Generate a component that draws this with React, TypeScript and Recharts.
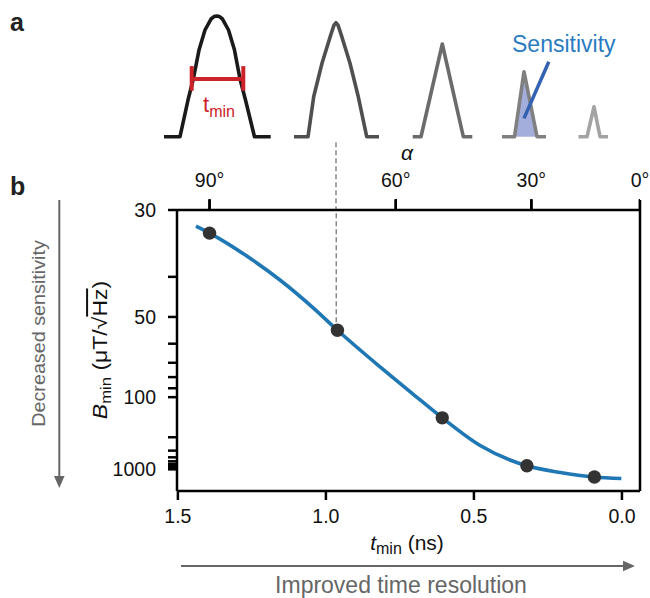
import React from "react";
import {
  ComposedChart,
  Line,
  Area,
  Scatter,
  XAxis,
  YAxis,
  ReferenceLine,
} from "recharts";

const FONT = "'Liberation Sans', Arial, Helvetica, sans-serif";

// ---- panel a: pulse traces (x in arbitrary time units, y normalised amplitude)
const pulse1: [number, number][] = [
  [1.64, 0], [1.8, 0], [1.88, 0.304], [1.933, 0.478], [1.99, 0.718], [2.05, 0.884],
  [2.11, 0.975], [2.14, 0.995], [2.167, 1.0], [2.195, 0.995], [2.225, 0.975],
  [2.285, 0.884], [2.345, 0.718], [2.4, 0.478], [2.455, 0.304], [2.545, 0], [2.707, 0],
];
const pulse2: [number, number][] = [
  [2.94, 0], [3.08, 0], [3.137, 0.331], [3.22, 0.609], [3.31, 0.85], [3.34, 0.925],
  [3.36, 0.944], [3.38, 0.925], [3.41, 0.85], [3.5, 0.609], [3.583, 0.331], [3.667, 0], [3.79, 0],
];
const pulse3: [number, number][] = [
  [4.127, 0], [4.21, 0], [4.423, 0.768], [4.633, 0], [4.723, 0],
];
const pulse4: [number, number][] = [
  [5.02, 0], [5.145, 0], [5.24, 0.5385], [5.37, 0], [5.46, 0],
];
const pulse5: [number, number][] = [
  [5.785, 0], [5.87, 0], [5.94, 0.2486], [6.0, 0], [6.08, 0],
];
const shaded: [number, number][] = [[5.145, 0], [5.24, 0.5385], [5.37, 0]];
const pulseColors = ["#1a1a1a", "#4f4f4f", "#6b6b6b", "#808080", "#a3a3a3"];

// ---- panel b: fitted curve and measured points (s = 1000 / Bmin)
const curveT = [1.439, 1.393, 1.266, 1.154, 1.043, 0.961, 0.817, 0.705, 0.607, 0.479, 0.321, 0.208, 0.093, 0.002];
const curveS = [31.32, 30.45, 27.56, 24.57, 21.13, 18.34, 13.77, 10.36, 7.42, 3.97, 1.45, 0.61, 0.05, -0.14];
const dotT = [1.393, 0.961, 0.607, 0.321, 0.093];
const dotS = [30.45, 18.34, 7.42, 1.45, 0.05];

const xTicks = [1.5, 1.0, 0.5, 0.0];
const alphaT = [1.393, 0.764, 0.306, -0.061];
const alphaLabels = ["90°", "60°", "30°", "0°"];
const yTickB = [30, 40, 50, 60, 70, 80, 90, 100, 200, 300, 400, 500, 600, 700, 800, 900, 1000];
const yLabelB = [30, 50, 100, 1000];

// merge the pulses into one table keyed by x (y0..y4, sh for the shaded area)
const pulses = [pulse1, pulse2, pulse3, pulse4, pulse5];
const rowMap = new Map<number, Record<string, number>>();
pulses.forEach((p, i) =>
  p.forEach(([x, y]) => {
    const r = rowMap.get(x) ?? { x };
    r["y" + i] = y;
    rowMap.set(x, r);
  })
);
shaded.forEach(([x, y]) => {
  const r = rowMap.get(x) ?? { x };
  r.sh = y;
  rowMap.set(x, r);
});
const pulseRows = Array.from(rowMap.values()).sort((a, b) => a.x - b.x);

const curve = curveT.map((t, i) => ({ t, s: curveS[i] }));
const dots = dotT.map((t, i) => ({ t, s: dotS[i] }));
const alphaRows = alphaT.map((t) => ({ t, v: 0.5 }));

const xDomain: [number, number] = [-0.061, 1.503];
const yDomain: [number, number] = [-1.7, 1000 / 30];

const axisStyle = { stroke: "#000", strokeWidth: 2.5 };
const tickStyle = { fontSize: 19.5, fill: "#111", fontFamily: FONT };

function PanelA() {
  return (
    <ComposedChart width={650} height={210} data={pulseRows} margin={{ top: 0, right: 0, bottom: 0, left: 0 }}>
      <XAxis type="number" dataKey="x" domain={[0, 6.5]} hide allowDataOverflow />
      <YAxis type="number" domain={[-0.607, 1.1326]} hide allowDataOverflow />
      <Area
        dataKey="sh"
        type="linear"
        baseValue={0}
        connectNulls
        stroke="none"
        fill="#a4aedc"
        fillOpacity={1}
        isAnimationActive={false}
      />
      {pulses.map((_, i) => (
        <Line
          key={i}
          dataKey={"y" + i}
          type="linear"
          connectNulls
          stroke={pulseColors[i]}
          strokeWidth={3.6}
          strokeLinejoin="round"
          dot={false}
          activeDot={false}
          isAnimationActive={false}
        />
      ))}
      {/* t_min bar */}
      <ReferenceLine segment={[{ x: 1.917, y: 0.478 }, { x: 2.433, y: 0.478 }]} stroke="#cc2229" strokeWidth={4} />
      <ReferenceLine segment={[{ x: 1.917, y: 0.381 }, { x: 1.917, y: 0.585 }]} stroke="#cc2229" strokeWidth={4} />
      <ReferenceLine segment={[{ x: 2.433, y: 0.381 }, { x: 2.433, y: 0.585 }]} stroke="#cc2229" strokeWidth={4} />
      {/* sensitivity pointer */}
      <ReferenceLine segment={[{ x: 5.488, y: 0.621 }, { x: 5.24, y: 0.152 }]} stroke="#3462b2" strokeWidth={3.5} />
      {/* guide down to panel b */}
      <ReferenceLine
        segment={[{ x: 3.36, y: -0.045 }, { x: 3.36, y: -0.607 }]}
        stroke="#888"
        strokeWidth={1.5}
        strokeDasharray="5 3"
      />
    </ComposedChart>
  );
}

// thin strip just above panel b carrying the outward tick marks of the alpha axis
function AlphaTicks() {
  return (
    <ComposedChart
      width={650}
      height={211}
      data={alphaRows}
      margin={{ top: 199, right: 10, bottom: 0, left: 177 }}
    >
      <XAxis type="number" dataKey="t" domain={xDomain} reversed hide allowDataOverflow />
      <YAxis type="number" dataKey="v" domain={[0, 1]} hide />
      <Scatter
        dataKey="v"
        isAnimationActive={false}
        shape={(p: any) => (
          <line x1={p.cx} x2={p.cx} y1={p.cy - 6} y2={p.cy + 6} stroke="#000" strokeWidth={2.5} />
        )}
      />
    </ComposedChart>
  );
}

function PanelB() {
  return (
    <ComposedChart width={650} height={598} margin={{ top: 0, right: 0, bottom: 0, left: 0 }}>
      <XAxis
        type="number"
        dataKey="t"
        domain={xDomain}
        reversed
        allowDataOverflow
        ticks={xTicks}
        interval={0}
        tickFormatter={(v: number) => v.toFixed(1)}
        height={107}
        tickSize={9}
        tickMargin={9}
        axisLine={axisStyle}
        tickLine={axisStyle}
        tick={tickStyle}
      />
      <XAxis
        xAxisId="top"
        orientation="top"
        type="number"
        dataKey="t"
        domain={xDomain}
        reversed
        allowDataOverflow
        ticks={alphaT}
        interval={0}
        tickFormatter={(v: number) => alphaLabels[alphaT.indexOf(v)] ?? ""}
        height={210}
        tickSize={10}
        tickMargin={13}
        axisLine={axisStyle}
        tickLine={axisStyle}
        tick={tickStyle}
      />
      <YAxis
        type="number"
        dataKey="s"
        domain={yDomain}
        allowDataOverflow
        ticks={yTickB.map((b) => 1000 / b)}
        interval={0}
        tickFormatter={(v: number) => {
          const b = Math.round(1000 / v);
          return yLabelB.includes(b) ? String(b) : "";
        }}
        width={177}
        tickSize={9}
        tickMargin={12}
        axisLine={axisStyle}
        tickLine={axisStyle}
        tick={tickStyle}
      />
      <YAxis
        yAxisId="right"
        orientation="right"
        type="number"
        domain={yDomain}
        allowDataOverflow
        width={10}
        tick={false}
        tickLine={false}
        axisLine={axisStyle}
      />
      <ReferenceLine
        segment={[{ x: 0.965, y: dotS[1] }, { x: 0.965, y: yDomain[1] }]}
        stroke="#888"
        strokeWidth={1.5}
        strokeDasharray="5 3"
      />
      {/* invisible series so the alpha axis on top gets drawn */}
      <Line
        xAxisId="top"
        data={curve}
        dataKey="s"
        stroke="none"
        dot={false}
        activeDot={false}
        isAnimationActive={false}
      />
      <Line
        data={curve}
        dataKey="s"
        type="monotone"
        stroke="#1f77b4"
        strokeWidth={3.6}
        dot={false}
        activeDot={false}
        isAnimationActive={false}
      />
      <Scatter
        data={dots}
        dataKey="s"
        isAnimationActive={false}
        shape={(p: any) => <circle cx={p.cx} cy={p.cy} r={6.7} fill="#333" />}
      />
    </ComposedChart>
  );
}

function Overlay() {
  const gray = "#666";
  return (
    <svg
      width={650}
      height={598}
      style={{ position: "absolute", left: 0, top: 0, pointerEvents: "none", fontFamily: FONT }}
    >
      <text x={10} y={31} fontSize={25} fontWeight="bold" fill="#222">a</text>
      <text x={10} y={195} fontSize={25} fontWeight="bold" fill="#222">b</text>

      <text x={203} y={111.5} fill="#cc2229" fontSize={22}>
        t<tspan fontSize={16} dy={5}>min</tspan>
      </text>
      <text x={512} y={51.5} fill="#2a7bbf" fontSize={23}>Sensitivity</text>
      <text x={407} y={160} fontSize={21} fontStyle="italic" textAnchor="middle" fill="#111">α</text>

      <text
        transform="translate(106.5,350) rotate(-90) scale(1.15,1)"
        textAnchor="middle"
        fontSize={20}
        fill="#111"
      >
        <tspan fontStyle="italic">B</tspan>
        <tspan fontSize={14.5} dy={4}>min</tspan>
        <tspan dy={-4}> (μT/√</tspan>
        <tspan style={{ textDecoration: "overline" }}>Hz</tspan>
        <tspan>)</tspan>
      </text>

      <text x={407} y={549.5} textAnchor="middle" fontSize={21} fill="#111">
        <tspan fontStyle="italic">t</tspan>
        <tspan fontSize={16} dy={4}>min</tspan>
        <tspan dy={-4}> (ns)</tspan>
      </text>

      <text
        transform="translate(44.5,333.5) rotate(-90) scale(1.04,1)"
        textAnchor="middle"
        fontSize={19}
        fill={gray}
      >
        Decreased sensitivity
      </text>
      <line x1={59.3} y1={200} x2={59.3} y2={478} stroke={gray} strokeWidth={2} />
      <polygon points="54,476 64.6,476 59.3,488" fill={gray} />

      <text x={401} y={592.5} textAnchor="middle" fontSize={23} fill={gray}>
        Improved time resolution
      </text>
      <line x1={181} y1={566} x2={625} y2={566} stroke={gray} strokeWidth={2} />
      <polygon points="623,560.7 623,571.3 635,566" fill={gray} />
    </svg>
  );
}

export default function App() {
  return (
    <div
      style={{
        position: "absolute",
        left: 0,
        top: 0,
        width: 650,
        height: 598,
        background: "#fff",
        fontFamily: FONT,
      }}
    >
      <div style={{ position: "absolute", left: 0, top: 0 }}>
        <PanelA />
      </div>
      <div style={{ position: "absolute", left: 0, top: 0 }}>
        <PanelB />
      </div>
      <div style={{ position: "absolute", left: 0, top: 0 }}>
        <AlphaTicks />
      </div>
      <Overlay />
    </div>
  );
}
